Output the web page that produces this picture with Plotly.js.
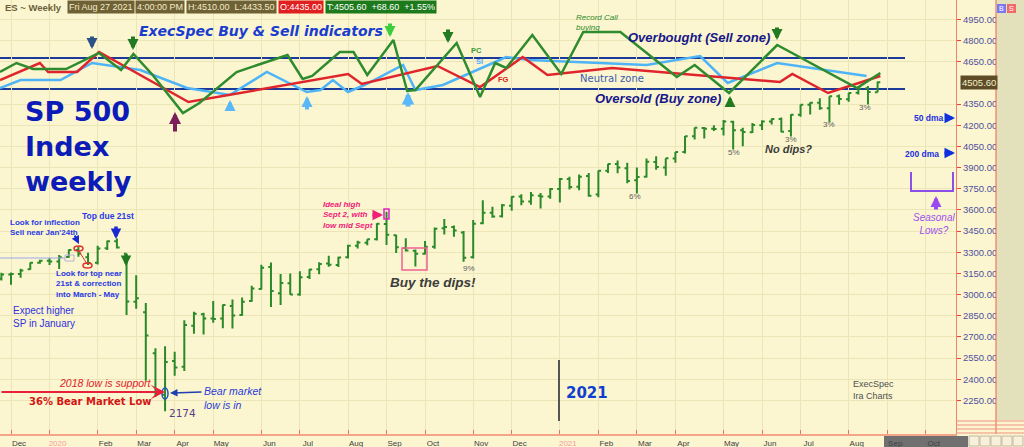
<!DOCTYPE html>
<html><head><meta charset="utf-8">
<script src="https://cdn.plot.ly/plotly-3.0.1.min.js"></script>
<style>html,body{margin:0;padding:0;background:#fbf6cf;overflow:hidden}#chart{width:1024px;height:447px}</style>
</head><body><div id="chart"></div>
<script>
// ---- weekly ES bars ----
const weekDates = ['2019-11-29','2019-12-06','2019-12-13','2019-12-20','2019-12-27',
'2020-01-03','2020-01-10','2020-01-17','2020-01-24','2020-01-31','2020-02-07','2020-02-14','2020-02-21','2020-02-28',
'2020-03-06','2020-03-13','2020-03-20','2020-03-27','2020-04-03','2020-04-10','2020-04-17','2020-04-24',
'2020-05-01','2020-05-08','2020-05-15','2020-05-22','2020-05-29','2020-06-05','2020-06-12','2020-06-19','2020-06-26',
'2020-07-03','2020-07-10','2020-07-17','2020-07-24','2020-07-31','2020-08-07','2020-08-14','2020-08-21','2020-08-28',
'2020-09-04','2020-09-11','2020-09-18','2020-09-25','2020-10-02','2020-10-09','2020-10-16','2020-10-23','2020-10-30',
'2020-11-06','2020-11-13','2020-11-20','2020-11-27','2020-12-04','2020-12-11','2020-12-18','2020-12-25',
'2021-01-01','2021-01-08','2021-01-15','2021-01-22','2021-01-29','2021-02-05','2021-02-12','2021-02-19','2021-02-26',
'2021-03-05','2021-03-12','2021-03-19','2021-03-26','2021-04-02','2021-04-09','2021-04-16','2021-04-23','2021-04-30',
'2021-05-07','2021-05-14','2021-05-21','2021-05-28','2021-06-04','2021-06-11','2021-06-18','2021-06-25',
'2021-07-02','2021-07-09','2021-07-16','2021-07-23','2021-07-30','2021-08-06','2021-08-13','2021-08-20','2021-08-27'];
const openPx = [3112,3143,3146,3180,3225,3240,3235,3266,3316,3264,3226,3328,3378,3290,2950,2875,2585,2290,2530,2489,2780,2860,
2830,2830,2920,2855,2955,3040,3195,3010,3080,3000,3125,3180,3220,3210,3265,3347,3368,3393,3500,3420,3330,3310,3290,3340,3470,3480,3440,
3265,3505,3580,3555,3630,3695,3660,3700,3695,3748,3820,3765,3840,3710,3877,3925,3895,3810,3835,3940,3900,3965,4010,4122,4180,4175,
4175,4225,4165,4150,4200,4226,4245,4160,4275,4345,4360,4320,4405,4385,4430,4462,4435];
const highPx = [3154,3157,3183,3228,3247,3260,3280,3320,3340,3297,3347,3383,3397,3292,3137,2940,2620,2634,2595,2818,2879,2871,
2954,2929,2965,2980,3062,3211,3227,3146,3150,3165,3182,3230,3275,3268,3353,3381,3393,3506,3587,3424,3400,3320,3380,3475,3536,3490,3450,
3529,3668,3623,3642,3697,3712,3727,3720,3756,3826,3835,3852,3862,3880,3927,3950,3934,3900,3964,3980,3966,4010,4124,4184,4187,4200,
4237,4233,4182,4216,4236,4249,4256,4278,4347,4363,4391,4406,4419,4430,4463,4478,4510];
const lowPx = [3100,3069,3120,3176,3219,3210,3181,3262,3268,3210,3214,3316,3327,2855,2900,2390,2275,2174,2424,2458,2723,2718,
2800,2762,2760,2850,2950,3037,2913,2926,2999,2992,3110,3145,3197,3196,3255,3327,3350,3383,3351,3294,3306,3199,3284,3325,3426,3410,3233,
3255,3499,3545,3546,3594,3633,3636,3610,3680,3652,3745,3740,3694,3690,3862,3860,3790,3717,3830,3885,3843,3935,4000,4100,4106,4160,
4128,4028,4051,4145,4166,4205,4150,4120,4260,4276,4310,4222,4345,4367,4419,4347,4433.5];
const closePx = [3143,3146,3170,3225,3240,3235,3264,3316,3291,3224,3326,3378,3333,2951,2975,2711,2295,2523,2483,2785,2864,2831,
2827,2927,2852,2950,3044,3190,3026,3083,3001,3123,3178,3217,3211,3263,3347,3369,3392,3503,3424,3335,3312,3290,3339,3467,3479,3454,3262,
3502,3581,3554,3634,3694,3660,3705,3695,3748,3819,3763,3836,3701,3877,3926,3900,3805,3834,3941,3904,3966,4010,4122,4183,4175,4173,
4226,4165,4152,4202,4226,4244,4155,4274,4345,4360,4320,4405,4387,4429,4461,4436,4505.6];

// ---- sentiment indicators (unlabelled indicator scale) ----
const pcDates = ['2019-11-28','2019-12-10','2019-12-22','2020-01-15','2020-02-08','2020-02-24','2020-03-04','2020-03-18','2020-04-09',
'2020-04-21','2020-05-18','2020-06-24','2020-07-05','2020-07-12','2020-08-01','2020-08-11','2020-08-21','2020-09-09','2020-09-19',
'2020-09-25','2020-10-25','2020-11-11','2020-11-22','2020-11-30','2020-12-19','2021-01-09','2021-01-25','2021-02-21','2021-04-03',
'2021-04-16','2021-05-11','2021-06-15','2021-08-12','2021-08-29'];
const pcValues = [48,57,51,51,67,50,66,45,7,17,48,65,41,44,68,68,45,80,29,30,77,23,57,52,85,46,88,88,43,55,27,75,32,47];
const siDates = ['2019-11-28','2019-12-13','2020-01-11','2020-02-03','2020-03-09','2020-04-12','2020-05-13','2020-06-09','2020-07-08',
'2020-07-18','2020-07-27','2020-08-07','2020-08-19','2020-09-16','2020-09-25','2020-10-15','2020-11-22','2020-11-30','2020-12-17',
'2021-03-12','2021-04-20','2021-05-10','2021-06-15','2021-08-19'];
const siValues = [32,40,40,57,50,32,25,48,28,30,40,28,35,55,30,35,58,63,60,55,64,37,57,44];
const fgDates = ['2019-11-28','2019-12-27','2020-01-02','2020-01-23','2020-02-08','2020-04-13','2020-08-07','2020-08-17','2020-10-11',
'2020-11-11','2020-12-12','2020-12-30','2021-02-15','2021-06-17','2021-06-26','2021-07-22','2021-08-29'];
const fgValues = [40,57,48,48,68,18,46,36,54,33,63,45,52,38,46,27,44];
const overboughtLevel = 62;
const oversoldLevel = 31;

// ---- axes ----
const priceTicks = [2250,2400,2550,2700,2850,3000,3150,3300,3450,3600,3750,3900,4050,4200,4350,4650,4800,4950];
const monthTickDates = ['2019-12-06','2020-01-03','2020-02-07','2020-03-06','2020-04-03','2020-05-01','2020-06-05','2020-07-03',
'2020-08-07','2020-09-04','2020-10-02','2020-11-06','2020-12-04','2021-01-08','2021-02-05','2021-03-05','2021-04-02','2021-05-07',
'2021-06-04','2021-07-02','2021-08-06','2021-09-03','2021-10-01'];
const monthTickLabels = ['Dec','2020','Feb','Mar','Apr','May','Jun','Jul','Aug','Sep','Oct','Nov','Dec','2021','Feb','Mar','Apr','May','Jun','Jul','Aug','Sep','Oct'];

const W = 956, H = 434;
const px = x => x / W, py = y => 1 - y / H;
const LS = 'Liberation Sans, Arial, sans-serif', DV = 'DejaVu Sans, Verdana, sans-serif';
function txt(text, x, y, size, color, family, extra){
  return Object.assign({xref:'paper',yref:'paper',x:px(x),y:py(y),xanchor:'left',yanchor:'middle',text:text,showarrow:false,align:'left',
    borderpad:0,font:{size:size,color:color,family:family}}, extra||{});
}
function arr(x, y, ax, ay, color, width, size, head){
  return {xref:'paper',yref:'paper',x:px(x),y:py(y),ax:ax,ay:ay,text:'',showarrow:true,arrowhead:head||2,arrowsize:size,
    arrowwidth:width,arrowcolor:color,standoff:0,startstandoff:0};
}
function rect(x0,y0,x1,y1,line,fill,extra){
  return Object.assign({type:'rect',xref:'paper',yref:'paper',x0:px(x0),x1:px(x1),y0:py(y1),y1:py(y0),
    line:line,fillcolor:fill||'rgba(0,0,0,0)'}, extra||{});
}
function seg(x0,y0,x1,y1,line,extra){
  return Object.assign({type:'line',xref:'paper',yref:'paper',x0:px(x0),x1:px(x1),y0:py(y0),y1:py(y1),line:line}, extra||{});
}

const green = '#2a8a2a';
const traces = [
  {type:'ohlc', x:weekDates, open:openPx, high:highPx, low:lowPx, close:closePx, tickwidth:0.28,
   increasing:{line:{color:green,width:2}}, decreasing:{line:{color:green,width:2}}, hoverinfo:'skip', showlegend:false},
  {type:'scatter', mode:'lines', x:siDates, y:siValues, yaxis:'y2', line:{color:'#4fb4f7',width:2.5}, showlegend:false, hoverinfo:'skip'},
  {type:'scatter', mode:'lines', x:fgDates, y:fgValues, yaxis:'y2', line:{color:'#e0242c',width:2.5}, showlegend:false, hoverinfo:'skip'},
  {type:'scatter', mode:'lines', x:pcDates, y:pcValues, yaxis:'y2', line:{color:'#2e8b2e',width:2.5}, showlegend:false, hoverinfo:'skip'}
];

const hdrFont = {size:9, family:LS, color:'#f3ecc8'};
const annotations = [
  // header
  {xref:'paper',yref:'paper',x:px(3),y:1,xanchor:'left',yanchor:'top',showarrow:false,text:'<b>ES ~ Weekly</b>',font:{size:9.5,family:LS,color:'#6b5f3a'},borderpad:1},
  {xref:'paper',yref:'paper',x:px(67),y:1,xanchor:'left',yanchor:'top',showarrow:false,text:'Fri Aug 27 2021',font:hdrFont,bgcolor:'#6f6136',borderpad:1},
  {xref:'paper',yref:'paper',x:px(135),y:1,xanchor:'left',yanchor:'top',showarrow:false,text:'4:00:00 PM',font:hdrFont,bgcolor:'#6f6136',borderpad:1},
  {xref:'paper',yref:'paper',x:px(186),y:1,xanchor:'left',yanchor:'top',showarrow:false,text:'H:4510.00&nbsp; L:4433.50',font:hdrFont,bgcolor:'#6f6136',borderpad:1},
  {xref:'paper',yref:'paper',x:px(278),y:1,xanchor:'left',yanchor:'top',showarrow:false,text:'O:4435.00',font:{size:9,family:LS,color:'#ffffff'},bgcolor:'#e02020',borderpad:1},
  {xref:'paper',yref:'paper',x:px(325),y:1,xanchor:'left',yanchor:'top',showarrow:false,text:'T:4505.60&nbsp;&nbsp;+68.60&nbsp;&nbsp;+1.55%',font:{size:9,family:LS,color:'#ffffff'},bgcolor:'#1c7a1c',borderpad:1},
  {xref:'paper',yref:'paper',x:px(1001.5),y:py(8.5),xanchor:'center',yanchor:'middle',showarrow:false,text:'B',font:{size:7,family:LS,color:'#ffffff'}},
  {xref:'paper',yref:'paper',x:px(1011.5),y:py(8.5),xanchor:'center',yanchor:'middle',showarrow:false,text:'S',font:{size:7,family:LS,color:'#ffffff'}},
  // price tag
  {xref:'paper',yref:'y',x:px(960),y:4505.6,xanchor:'left',yanchor:'middle',showarrow:false,text:'4505.60',font:{size:9.5,family:LS,color:'#f3eccd'},bgcolor:'#5e4c26',borderpad:1},
  // indicator panel texts
  txt('<b><i>ExecSpec Buy &amp; Sell indicators</i></b>',138,31,14,'#1a3ccf',DV),
  txt('<b><i>Overbought (Sell zone)</i></b>',627,38,13,'#16168a',LS),
  txt('<b><i>Oversold (Buy zone)</i></b>',594,99,13,'#16168a',LS),
  txt('Neutral zone',579,78,10,'#3a5ab0',DV),
  txt('<i>Record Call<br>buying</i>',575,22,8,'#2a8a2a',LS),
  txt('<b>PC</b>',470,50,7.5,'#3a9a3a',LS),
  txt('<b>SI</b>',475,61,7.5,'#55aaff',LS),
  txt('<b>FG</b>',497,80,7.5,'#d82020',LS),
  // left texts
  txt('<b>SP 500<br>Index<br>weekly</b>',24,147,27,'#0d1cb8',DV),
  txt('<b>Look for inflection<br>Sell near Jan\'24th</b>',9,227,8,'#2a3ae6',LS),
  txt('<b>Top due 21st</b>',81,216,8.5,'#2a3ae6',LS),
  txt('<b>Look for top near<br>21st &amp; correction<br>into March - May</b>',55,284,8,'#2a3ae6',LS),
  txt('Expect higher<br>SP in January',12,317,10,'#3030e0',LS),
  txt('<i>2018 low is support</i>',58,383,10.5,'#e0202a',LS),
  txt('<b>36% Bear Market Low</b>',28,401,10,'#d41515',DV),
  txt('<i>Bear market<br>low is in</i>',203,398,10.5,'#2a3ad8',LS),
  txt('2174',168,413,10.5,'#5a3c8c',DV),
  txt('<b><i>Ideal high<br>Sept 2, with<br>low mid Sept</i></b>',322,215,8,'#f0207a',LS),
  txt('<b><i>Buy the dips!</i></b>',389,282,13.5,'#3c3c3c',LS),
  txt('9%',462,268,8,'#606060',LS),
  txt('6%',628,196,8,'#606060',LS),
  txt('5%',727,152,8,'#606060',LS),
  txt('3%',784,139,8,'#606060',LS),
  txt('3%',822,124,8,'#606060',LS),
  txt('3%',858,107,8,'#606060',LS),
  txt('<b><i>No dips?</i></b>',764,149,11,'#3c3c3c',LS),
  txt('<b>50 dma</b>',913,118,8.5,'#2030e0',LS),
  txt('<b>200 dma</b>',904,154,8.5,'#2030e0',LS),
  txt('<i>Seasonal<br>Lows?</i>',934,224,10,'#a050f0',LS,{xanchor:'center',align:'center'}),
  txt('ExecSpec<br>Ira Charts',852,390,9,'#505050',LS),
  txt('<b>2021</b>',565,393,15,'#1040d0',DV),
  // arrows in indicator panel
  arr(92,49,0,-14,'#2a5286',4,0.55),
  arr(133,50,0,-15,'#237a23',4,0.55),
  arr(390,37,0,-15,'#3ccf3c',4,0.55),
  arr(448,43,0,-15,'#237a23',4,0.55),
  arr(777,40,0,-14,'#237a23',4,0.55),
  arr(230,100,0,11,'#5ab8f8',4,0.55),
  arr(307,96,0,15,'#5ab8f8',4,0.55),
  arr(408,92,0,16,'#5ab8f8',5,0.5),
  arr(730,96,0,12,'#237a23',4,0.55),
  arr(175,112,0,21,'#7b1d5b',4,0.6),
  // arrows in price panel
  arr(126,266,0,-13,'#1f7a1f',3.5,0.6),
  arr(116,239,0,-14,'#1a2ad0',3.5,0.6),
  arr(79,244,-5,-10,'#1a2ad0',2,0.8),
  arr(383,215,-12,0,'#f0207a',3,0.7),
  arr(955,118,-11,0,'#1030e0',3,0.7),
  arr(955,153,-12,0,'#1030e0',3,0.7),
  arr(936,196,0,15,'#9a4af0',4,0.55),
  arr(170,393,33,-1,'#2040b0',1.5,1),
  arr(165,392,-165,0,'#e8203a',2,1.2,3)
];

const shapes = [
  {type:'line',xref:'paper',x0:0,x1:px(905),yref:'y2',y0:overboughtLevel,y1:overboughtLevel,line:{color:'#1b3a99',width:2},layer:'below'},
  {type:'line',xref:'paper',x0:0,x1:px(905),yref:'y2',y0:oversoldLevel,y1:oversoldLevel,line:{color:'#1b3a99',width:2},layer:'below'},
  rect(402,248,427,270,{color:'#f06090',width:1.5}),
  rect(384,209,389,219,{color:'#e020c0',width:1.5}),
  {type:'circle',xref:'paper',yref:'paper',x0:px(74),x1:px(83),y0:py(251),y1:py(246),line:{color:'#e03030',width:1.5}},
  {type:'circle',xref:'paper',yref:'paper',x0:px(83),x1:px(92),y0:py(268),y1:py(263),line:{color:'#e03030',width:1.5}},
  seg(79,251,87,264,{color:'#e03030',width:1}),
  seg(0,258,65,258,{color:'#9aa8f0',width:1}),
  rect(65,255,74,261,{color:'#b8b0e0',width:1}),
  {type:'circle',xref:'paper',yref:'paper',x0:px(162),x1:px(168),y0:py(399),y1:py(388),line:{color:'#2050c0',width:1.5}},
  {type:'path',xref:'paper',yref:'paper',path:'M '+px(911)+' '+py(172)+' L '+px(911)+' '+py(191)+' L '+px(953)+' '+py(191)+' L '+px(953)+' '+py(172),
    line:{color:'#8a50e8',width:2}},
  seg(559,360,559,421,{color:'#555555',width:2}),
  // right side panel
  rect(996,-1,1025,420,{width:0},'#e3e0bc'),
  seg(996,0,996,434,{color:'#f06050',width:1}),
  rect(997,4,1006,13,{width:0},'#7a7af0'),
  rect(1007,4,1016,13,{width:0},'#f06a6a'),
  seg(956,421,1024,421,{color:'#f09080',width:1}),
  seg(956,425,1024,425,{color:'#f09080',width:1}),
  seg(956,429,1024,429,{color:'#f09080',width:1}),
  seg(956,433,1024,433,{color:'#f09080',width:1}),
  rect(884,436,968,448,{width:0},'#707070',{layer:'below'}),
  rect(969,436,979,446,{color:'#c8b8a0',width:1},'#f6f0dc'),
  rect(980,436,990,446,{color:'#c8b8a0',width:1},'#f6f0dc'),
  rect(991,436,1001,446,{color:'#c8b8a0',width:1},'#f6f0dc'),
  rect(1002,436,1012,446,{color:'#c8b8a0',width:1},'#f6f0dc'),
  rect(1013,436,1023,446,{color:'#c8b8a0',width:1},'#f6f0dc')
];

const layout = {
  width:1024, height:447,
  margin:{l:0,r:68,t:0,b:13,pad:0},
  paper_bgcolor:'#fbf6cf', plot_bgcolor:'#fbf6cf',
  showlegend:false, hovermode:false,
  xaxis:{type:'date', range:['2019-11-28','2021-10-23'], rangeslider:{visible:false},
    tickvals:monthTickDates,
    ticktext:monthTickLabels.map(t => /^\d{4}$/.test(t) ? '<span style="color:#f2a0a0">'+t+'</span>' : t),
    ticklabelshift:8, ticks:'inside', ticklen:4, tickcolor:'#f07060',
    showgrid:true, gridcolor:'#ebe5b8', gridwidth:1,
    showline:true, linecolor:'#f4a587', linewidth:2,
    tickfont:{size:8,family:LS,color:'#404040'}, zeroline:false, fixedrange:true},
  yaxis:{side:'right', range:[2012,5088], tickvals:priceTicks, tickformat:'.2f',
    ticks:'outside', ticklen:4, tickcolor:'#f04040',
    showgrid:true, gridcolor:'#ebe5b8', gridwidth:1,
    showline:true, linecolor:'#f08070', linewidth:1,
    tickfont:{size:9.5,family:LS,color:'#5050a0'}, zeroline:false, fixedrange:true},
  yaxis2:{overlaying:'y', range:[-314,120], visible:false, fixedrange:true},
  annotations:annotations,
  shapes:shapes
};
Plotly.newPlot('chart', traces, layout, {displayModeBar:false, staticPlot:true});
</script></body></html>
